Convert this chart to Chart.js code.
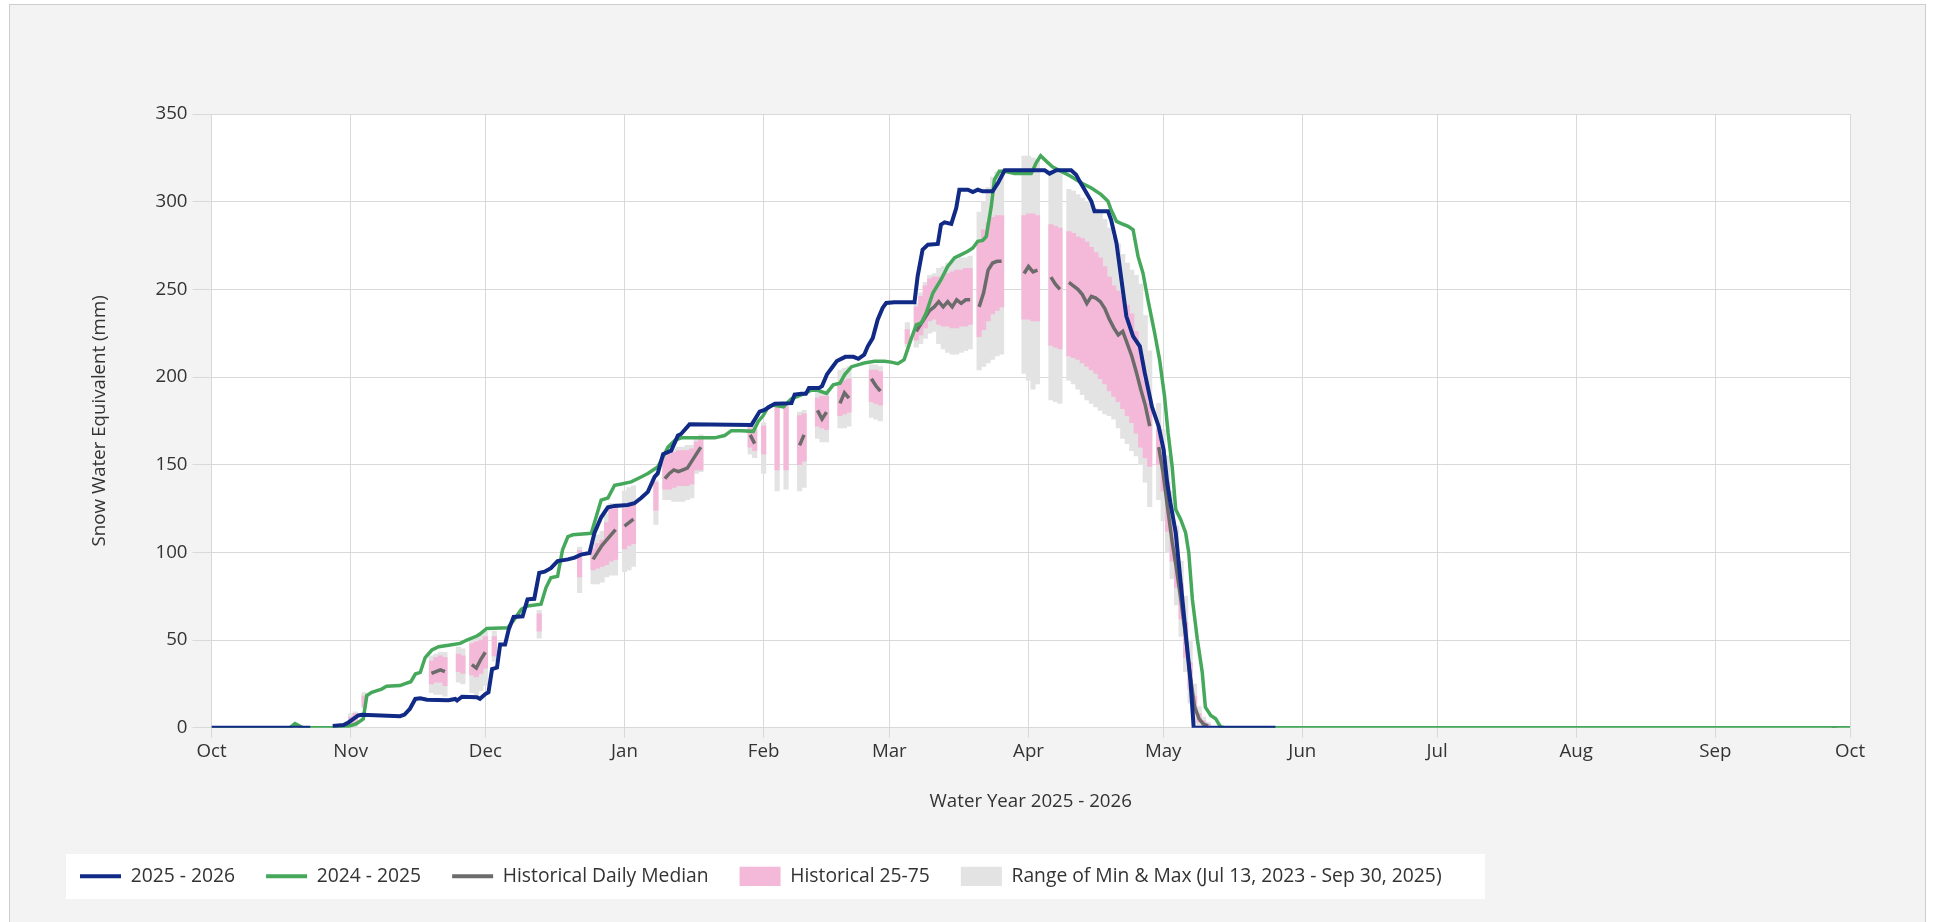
<!DOCTYPE html>
<html>
<head>
<meta charset="utf-8">
<title>Snow Water Equivalent</title>
<script src="https://cdn.jsdelivr.net/npm/chart.js@4.4.1/dist/chart.umd.min.js"></script>
<style>
    html, body { margin: 0; padding: 0; background: #ffffff; }
    body { width: 1933px; height: 922px; overflow: hidden; position: relative; }
    #painel {
        position: absolute; left: 9px; top: 4px; width: 1917px; height: 940px;
        background: #f3f3f3; border: 1px solid #cdcdcd; box-sizing: border-box;
    }
    #grafico { position: absolute; left: 0; top: 0; }
</style>
</head>
<body>
<div id="painel"></div>
<canvas id="grafico" width="1933" height="922"></canvas>
<script>
// Eixo X: dias desde 1 de outubro (ano hidrológico)
const monthDays = [0, 31, 61, 92, 123, 151, 182, 212, 243, 273, 304, 335, 365];
const monthLabels = ['Oct', 'Nov', 'Dec', 'Jan', 'Feb', 'Mar', 'Apr', 'May', 'Jun', 'Jul', 'Aug', 'Sep', 'Oct'];

// 2025 - 2026 (azul)
const blueDays = [0, 22, 24, 27, 29.4, 30.5, 31.6, 32.7, 33.5, 42, 43, 44.2, 45.4, 46.5, 48, 52.8, 54.3, 54.7, 55.8, 59.1,
    59.8, 61, 61.7, 62.5, 63.6, 64.3, 65.4, 66.2, 67.3, 69.3, 70.4, 71.9, 73, 74.2, 75.6, 77.1, 79.4, 80.9, 82.3, 84.2,
    85.3, 86.8, 88.3, 89.8, 92.7, 94.2, 95.7, 97.2, 98.7, 99.4, 100.6, 102.4, 103.9, 104.6, 106.5, 120.3, 122.1, 123.2, 124.4, 125.5,
    129.2, 129.9, 131.4, 132.4, 133.1, 135.3, 136, 137.1, 138.2, 139.3, 141.2, 143, 144.1, 145.4, 146.2, 147.3, 148.4, 149.5, 150.3, 152.1,
    156.6, 157.3, 158.4, 159.6, 161.8, 162.5, 163.3, 164.8, 165.9, 166.6, 168.5, 169.6, 170.7, 171.8, 174, 175.2, 176.7, 185.6, 186.7, 188.2,
    191.5, 192.6, 193.4, 194.5, 196, 196.7, 199.7, 200.4, 201.6, 202.7, 203.8, 205.3, 206.8, 207.9, 209.5, 211, 212.1, 212.9, 213.6, 214.8,
    215.9, 217, 218.1, 218.8, 237];
const blueSwe = [0, 0, null, 1, 1.5, 3, 5, 7, 7.4, 6.6, 7.5, 10.8, 16.4, 16.8, 16, 15.7, 16.4, 15.5, 17.7, 17.4,
    16.5, 19.2, 20.2, 33.4, 34.3, 47.5, 47.5, 56, 63.2, 63.5, 73.2, 73.5, 88.3, 89, 91, 95, 96, 97, 98.7, 99.6,
    111, 120, 125.7, 126.5, 127, 128, 131, 134.5, 143, 145, 156, 158, 166.6, 167.5, 173, 172.7, 180.3, 181.2, 183.2, 184.7,
    185.1, 190, 190.4, 190.4, 193.8, 193.8, 194.8, 201.5, 205.3, 209.1, 211.5, 211.5, 210.4, 212.7, 217.5, 222.2, 232.7, 239.4, 242.2, 242.6,
    242.6, 257.4, 272.6, 275.5, 275.9, 286.9, 288.2, 287.3, 296.4, 306.8, 306.8, 305.5, 306.8, 305.9, 305.9, 310.6, 317.9, 317.9, 316, 317.9,
    317.9, 315.4, 311.6, 306.8, 300.2, 294.5, 294.5, 289.7, 276.4, 255.5, 234.6, 223.2, 217.5, 202.3, 183, 171.8, 158.5, 139.6, 128.2, 111.2,
    82.8, 54.4, 25.9, 0, 0];

// 2024 - 2025 (verde)
const greenDays = [0, 17.5, 18.6, 20.4, 29.7, 32.3, 33.8, 34.6, 35.7, 37.9, 39, 42, 43, 44.4, 45.4, 46.5, 47.6, 49.1, 50.6, 52.8,
    55.4, 56.9, 59.1, 59.8, 61.3, 66, 67.5, 69, 70.4, 73.4, 74.5, 75.6, 77.1, 78.2, 79.4, 80.5, 84.6, 86.8, 88.3, 89.8,
    91.3, 93.5, 95.7, 97.2, 99.4, 101.7, 103.2, 104.6, 112.1, 114.3, 115.8, 118, 120.7, 121.8, 122.9, 124, 125.1, 127.4, 129.2, 132.2,
    133.7, 135.2, 137, 138.5, 140, 141.1, 142.6, 144.4, 145.4, 147.7, 149.9, 151.4, 152.9, 154.3, 155.8, 157, 158.1, 159.2, 160.7, 162.5,
    164, 165.5, 167, 168.5, 169.6, 170.7, 171.8, 172.6, 173.7, 174.4, 175.5, 176.7, 178.9, 182.6, 183.7, 184.7, 186, 187.4, 189.3, 191.5,
    193.8, 196, 198.2, 199.7, 200.4, 201.6, 202.7, 204.2, 205.3, 206.4, 207.5, 208.6, 210.1, 211.2, 212.3, 213.1, 214, 214.8, 215.9, 217,
    217.7, 218.5, 219.6, 220.7, 221.4, 222.6, 223.7, 224.8, 225.5, 365];
const greenSwe = [0, 0, 2.3, 0, 0, 2.3, 5, 18.3, 20.2, 22, 23.6, 24, 25, 26.2, 30.6, 31.5, 40, 44.3, 46.2, 47,
    48.1, 50, 52.3, 53.4, 56.6, 57, 61.9, 67.5, 69.4, 70.4, 79.8, 85.5, 86.4, 101.5, 109, 110, 110.9, 129.8, 131, 138.3,
    139, 140.2, 143, 145, 148.7, 160, 163.8, 165.3, 165.3, 166.6, 169.4, 169.4, 169, 174.7, 178, 183, 184, 183, 187.6, 190.7,
    192.6, 192.3, 190.7, 195.5, 196.5, 201.5, 205.9, 207.2, 208, 209, 209, 208.5, 207.6, 209.9, 221.3, 229.8, 230.8, 236.5, 247.9, 255.5,
    263.1, 267.9, 269.8, 271.7, 273.6, 277.4, 277.9, 280.2, 297.3, 312.5, 317.3, 317.3, 316, 316, 322.1, 326.2, 323, 319.8, 317.3, 314.4,
    310.6, 307.8, 304, 300.2, 295.4, 288.8, 287.5, 285.9, 284, 268.8, 259.3, 244.1, 225.1, 209.9, 189, 168.1, 149, 124.4, 118.8, 111.2,
    99.8, 73.3, 50.6, 31.6, 11.7, 7, 5.1, 0.4, 0, 0];

// Histórico: dias com dados e estatísticas diárias
const histDays = [
    31, 32, 34,
    49, 50, 51, 52, 55, 56, 58, 59, 60, 61, 63, 73, 82,
    85, 86, 87, 88, 89, 90, 92, 93, 94, 99,
    101, 102, 103, 104, 105, 106, 107, 108, 109,
    120, 121, 123, 126, 128, 131, 132, 135, 136, 137, 140, 141, 142, 147, 148, 149,
    155, 157, 158, 159, 160, 161, 162, 163, 164, 165, 166, 167, 168, 169,
    171, 172, 173, 174, 175, 176, 181, 182, 183, 184, 187, 188, 189,
    191, 192, 193, 194, 195, 196, 197, 198, 199, 200, 201, 202, 203, 204, 205, 206, 207, 208, 209,
    211, 212, 213, 214, 215, 216, 217, 218, 219, 220, 221, 222,
    361, 362
];
const histMin = [
    0, 0, 11,
    20, 19, 19, 18, 26, 25, 20, 18, 21, 24, 38, 51, 77,
    82, 82, 83, 86, 87, 87, 89, 90, 92, 116,
    130, 130, 129, 129, 129, 130, 131, 145, 146,
    156, 154, 145, 135, 136, 135, 137, 165, 163, 163, 171, 171, 172, 177, 176, 175,
    217, 217, 219, 222, 225, 226, 219, 216, 214, 213, 213, 214, 215, 216,
    204, 206, 208, 210, 212, 213, 202, 198, 193, 196, 187, 186, 185,
    198, 196, 193, 190, 187, 185, 183, 181, 179, 178, 176, 171, 165, 162, 158, 155, 150, 140, 126,
    130, 118, 100, 85, 70, 52, 32, 14, 3, 0, 0, 0,
    0, 0
];
const histP25 = [
    1, 2, 12,
    25, 26, 26, 24, 32, 31, 30, 29, 31, 34, 41, 55, 86,
    90, 91, 92, 93, 95, 96, 102, 104, 105, 124,
    136, 136, 137, 138, 138, 138, 139, 147, 147,
    160, 158, 156, 147, 147, 150, 152, 172, 171, 170, 178, 179, 180, 186, 185, 184,
    219, 221, 224, 228, 232, 233, 230, 229, 229, 228, 228, 229, 229, 230,
    223, 227, 232, 236, 238, 240, 233, 233, 232, 232, 218, 217, 216,
    212, 211, 210, 208, 206, 204, 202, 199, 196, 192, 189, 186, 182, 178, 174, 168, 160, 154, 149,
    150, 135, 112, 95, 80, 62, 40, 22, 8, 3, 1, 0,
    0, 0
];
const histMedian = [
    null, null, null,
    31, 32, 33, 32, null, null, 36, 34, 39, 43, null, null, null,
    96, 100, 104, 107, 110, 113, 115, 117, 119, null,
    142, 145, 147, 146, 147, 148, 152, 156, 160,
    167, 162, null, null, null, 161, 167, 181, 176, 180, 185, 191, 188, 199, 195, 192,
    null, 226, 230, 234, 238, 240, 243, 240, 243, 240, 244, 242, 244, 244,
    240, 248, 261, 265, 266, 266, 259, 263, 260, 261, 257, 253, 250,
    254, 252, 250, 247, 242, 246, 245, 243, 239, 233, 228, 224, 226, 219, 212, 203, 193, 184, 172,
    160, 145, 125, 106, 90, 72, 52, 30, 12, 5, 2, 1,
    0, 0
];
const histP75 = [
    6, 8, 18,
    38, 40, 41, 40, 42, 41, 48, 49, 50, 52, 52, 65, 101,
    102, 105, 107, 117, 125, 125, 125, 127, 128, 140,
    155, 156, 157, 158, 158, 158, 159, 163, 165,
    171, 170, 172, 183, 183, 178, 179, 188, 189, 189, 197, 198, 199, 204, 204, 203,
    227, 240, 246, 252, 256, 257, 257, 258, 259, 260, 261, 261, 262, 262,
    278, 284, 288, 291, 292, 292, 292, 293, 293, 292, 287, 286, 285,
    283, 282, 280, 279, 277, 274, 271, 268, 263, 257, 252, 249, 246, 241, 236, 226, 212, 198, 185,
    170, 155, 140, 118, 100, 82, 60, 37, 18, 8, 4, 2,
    0, 0
];
const histMax = [
    8, 9, 20,
    41, 42, 43, 43, 46, 45, 51, 52, 53, 55, 55, 67, 103,
    107, 110, 112, 122, 128, 128, 135, 137, 138, 141,
    157, 158, 159, 160, 160, 161, 161, 166, 167,
    173, 172, 174, 185, 185, 180, 181, 191, 192, 192, 204, 205, 206, 207, 207, 206,
    231, 242, 248, 254, 258, 259, 262, 263, 265, 266, 267, 268, 268, 269,
    294, 300, 308, 314, 317, 318, 326, 326, 325, 324, 318, 317, 316,
    307, 306, 304, 302, 300, 298, 296, 294, 290, 285, 280, 276, 270, 265, 261, 258, 253, 235, 215,
    185, 170, 155, 135, 115, 95, 75, 50, 25, 12, 6, 3,
    0, 0
];

// Cores
const corAzul = '#102a86';
const corVerde = '#45a85a';
const corMediana = '#6b6b6b';
const corRosa = '#f4b8d8';
const corCinza = '#e3e3e3';
const corTexto = '#333333';
const corGrade = '#d9d9d9';

function montarPontos(dias, valores) {
    return dias.map((d, i) => ({ x: d, y: valores[i] }));
}

function montarMediana() {
    const pontos = [];
    histDays.forEach((d, i) => {
        // quebra a linha onde faltam dias
        if (i > 0 && d !== histDays[i - 1] + 1) {
            pontos.push({ x: (d + histDays[i - 1]) / 2, y: null });
        }
        pontos.push({ x: d, y: histMedian[i] });
    });
    return pontos;
}

function montarFaixa(baixo, alto) {
    return histDays.map((d, i) => ({ x: d, y: [baixo[i], alto[i]] }));
}

// Fundo branco da área do gráfico e da legenda
const fundoPlugin = {
    id: 'fundo',
    beforeDraw(chart) {
        const { ctx, chartArea } = chart;
        ctx.save();
        ctx.fillStyle = '#ffffff';
        ctx.fillRect(chartArea.left, chartArea.top, chartArea.right - chartArea.left, chartArea.bottom - chartArea.top);
        ctx.fillRect(66, 854, 1419, 45);
        ctx.restore();
    }
};

Chart.defaults.font.family = "'Open Sans', 'Noto Sans', sans-serif";
Chart.defaults.font.size = 18.7;
Chart.defaults.color = corTexto;

const ctx = document.getElementById('grafico').getContext('2d');
new Chart(ctx, {
    type: 'line',
    data: {
        datasets: [
            {
                label: '2025 - 2026',
                data: montarPontos(blueDays, blueSwe),
                borderColor: corAzul,
                backgroundColor: corAzul,
                borderWidth: 4,
                pointRadius: 0,
                tension: 0,
                spanGaps: false
            },
            {
                label: '2024 - 2025',
                data: montarPontos(greenDays, greenSwe),
                borderColor: corVerde,
                backgroundColor: corVerde,
                borderWidth: 3.5,
                pointRadius: 0,
                tension: 0
            },
            {
                label: 'Historical Daily Median',
                data: montarMediana(),
                borderColor: corMediana,
                backgroundColor: corMediana,
                borderWidth: 3.5,
                pointRadius: 0,
                tension: 0,
                spanGaps: false
            },
            {
                type: 'bar',
                label: 'Historical 25-75',
                data: montarFaixa(histP25, histP75),
                backgroundColor: corRosa,
                borderWidth: 0,
                grouped: false,
                barPercentage: 1,
                categoryPercentage: 1
            },
            {
                type: 'bar',
                label: 'Range of Min & Max (Jul 13, 2023 - Sep 30, 2025)',
                data: montarFaixa(histMin, histMax),
                backgroundColor: corCinza,
                borderWidth: 0,
                grouped: false,
                barPercentage: 1,
                categoryPercentage: 1
            }
        ]
    },
    options: {
        responsive: false,
        animation: false,
        devicePixelRatio: 1,
        events: [],
        layout: {
            padding: { left: 49, right: 83, top: 114, bottom: 26 }
        },
        plugins: {
            tooltip: { enabled: false },
            legend: {
                position: 'bottom',
                align: 'start',
                labels: {
                    usePointStyle: true,
                    pointStyleWidth: 41,
                    boxHeight: 20,
                    padding: 31,
                    color: corTexto,
                    font: { size: 19.3 },
                    generateLabels(chart) {
                        const itens = Chart.defaults.plugins.legend.labels.generateLabels(chart);
                        itens.forEach((item, i) => {
                            if (i < 3) {
                                item.pointStyle = 'line';
                                item.lineWidth = 4;
                            } else {
                                item.pointStyle = 'rect';
                                item.lineWidth = 0;
                            }
                        });
                        return itens;
                    }
                }
            }
        },
        scales: {
            x: {
                type: 'linear',
                min: 0,
                max: 365,
                offset: false,
                afterBuildTicks(scale) {
                    scale.ticks = monthDays.map(v => ({ value: v }));
                },
                afterFit(scale) {
                    scale.height = 108;
                },
                ticks: {
                    autoSkip: false,
                    maxRotation: 0,
                    padding: 3,
                    color: corTexto,
                    callback: (valor) => monthLabels[monthDays.indexOf(valor)]
                },
                grid: { color: corGrade, tickLength: 10, offset: false },
                border: { color: corGrade },
                title: {
                    display: true,
                    text: 'Water Year 2025 - 2026',
                    color: corTexto,
                    padding: { top: 0, bottom: 22.7 }
                }
            },
            y: {
                min: 0,
                max: 350,
                afterFit(scale) {
                    scale.width = 162.5;
                },
                ticks: { stepSize: 50, padding: 5, color: corTexto },
                grid: { color: corGrade, tickLength: 19 },
                border: { color: corGrade },
                title: {
                    display: true,
                    text: 'Snow Water Equivalent (mm)',
                    color: corTexto,
                    padding: { top: 39, bottom: 0 }
                }
            }
        }
    },
    plugins: [fundoPlugin]
});
</script>
</body>
</html>
